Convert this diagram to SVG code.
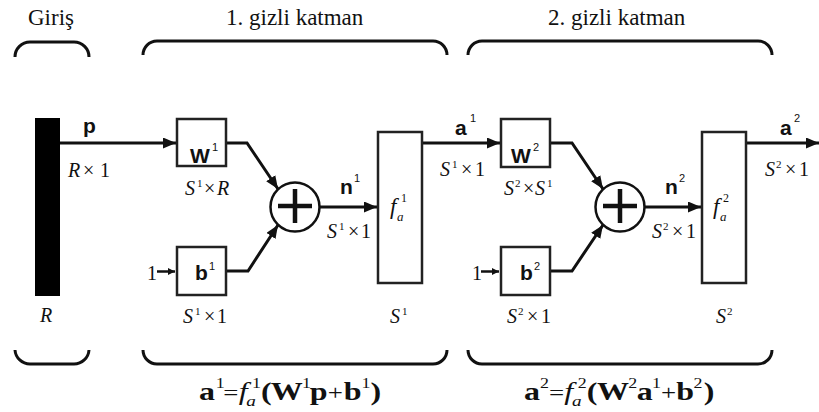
<svg xmlns="http://www.w3.org/2000/svg" width="819" height="412" viewBox="0 0 819 412">
<style>
.ttl{font-family:'Liberation Serif','Times New Roman',serif;font-size:23px;fill:#111}
.m{font-family:'Liberation Serif','Times New Roman',serif;font-size:20px;fill:#111}
.it{font-style:italic}
.sm{font-size:11px}
.bs{font-family:'Liberation Sans',Arial,sans-serif;font-weight:bold;font-size:21px;fill:#111}
.ss{font-family:'Liberation Sans',Arial,sans-serif;font-weight:normal;font-size:11px}
.frm{font-family:'Liberation Serif','Times New Roman',serif;font-weight:bold;font-size:25px;fill:#111}
.nw{font-weight:normal}
.op{font-weight:normal;font-size:21px}
.sup{font-weight:normal;font-size:14px}
.box{fill:#fff;stroke:#222;stroke-width:2.5}
.br{fill:none;stroke:#111;stroke-width:3}
.ln{fill:none;stroke:#111;stroke-width:3;stroke-linejoin:miter}
.sl{fill:none;stroke:#111;stroke-width:2.5}
</style>
<defs>
<marker id="ah" markerUnits="userSpaceOnUse" markerWidth="14" markerHeight="12" refX="13" refY="5.5" orient="auto">
<path d="M0,0 L13,5.5 L0,11 z" fill="#111"/>
</marker>
<marker id="as" markerUnits="userSpaceOnUse" markerWidth="8" markerHeight="8" refX="7" refY="4" orient="auto">
<path d="M0,0.5 L7,4 L0,7.5 z" fill="#111"/>
</marker>
</defs>
<rect width="819" height="412" fill="#fff"/>

<g id="titles">
<text class="ttl" x="28" y="25">Giriş</text>
<text class="ttl" x="226" y="25">1. gizli katman</text>
<text class="ttl" x="548" y="25">2. gizli katman</text>
</g>

<g id="braces">
<path class="br" d="M15,57 A15,15 0 0 1 30,42 H74 A15,15 0 0 1 89,57"/>
<path class="br" d="M143,55 A14,14 0 0 1 157,41 H433 A14,14 0 0 1 447,55"/>
<path class="br" d="M468,55 A14,14 0 0 1 482,41 H758 A14,14 0 0 1 772,55"/>
<path class="br" d="M15,350 A15,15 0 0 0 30,364 H74 A15,15 0 0 0 89,350"/>
<path class="br" d="M143,350 A14,14 0 0 0 157,364 H433 A14,14 0 0 0 447,350"/>
<path class="br" d="M468,350 A14,14 0 0 0 482,364 H758 A14,14 0 0 0 772,350"/>
</g>

<g id="connectors">
<path class="ln" d="M60,143 H176" marker-end="url(#ah)"/>
<path class="ln" d="M227,143 H247 L278,189" marker-end="url(#ah)"/>
<path class="ln" d="M227,271 H248 L278,225" marker-end="url(#ah)"/>
<path class="ln" d="M320,207 H377" marker-end="url(#ah)"/>
<path class="ln" d="M423,143 H500" marker-end="url(#ah)"/>
<path class="ln" d="M551,143 H572 L603,189" marker-end="url(#ah)"/>
<path class="ln" d="M551,271 H572 L603,225" marker-end="url(#ah)"/>
<path class="ln" d="M645,207 H701" marker-end="url(#ah)"/>
<path class="ln" d="M747,143 H819" marker-end="url(#ah)"/>
<path class="sl" d="M157,271.5 H175" marker-end="url(#as)"/>
<path class="sl" d="M481,271.5 H499" marker-end="url(#as)"/>
</g>

<g id="input">
<rect x="35" y="118" width="25" height="178" fill="#000"/>
<text class="m it" x="40" y="322">R</text>
<text class="bs" x="83" y="133">p</text>
<text class="m" y="177"><tspan class="it" x="68">R</tspan><tspan x="83">×</tspan><tspan x="100">1</tspan></text>
</g>

<g id="W1">
<rect class="box" x="177" y="119" width="49" height="47"/>
<text class="bs" x="190" y="163">W<tspan class="ss" x="212" y="151">1</tspan></text>
<text class="m" y="195"><tspan class="it" x="185">S</tspan><tspan class="sm" x="197" y="187">1</tspan><tspan x="204" y="195">×</tspan><tspan class="it" x="217">R</tspan></text>
</g>

<g id="b1">
<rect class="box" x="177" y="247" width="49" height="48"/>
<text class="m" x="147" y="280">1</text>
<text class="bs" x="195" y="280">b<tspan class="ss" x="209" y="270">1</tspan></text>
<text class="m" y="323"><tspan class="it" x="183">S</tspan><tspan class="sm" x="195" y="315">1</tspan><tspan x="204" y="323">×</tspan><tspan x="217">1</tspan></text>
</g>

<g id="sum1">
<circle cx="295" cy="207" r="24.5" fill="#fff" stroke="#111" stroke-width="2.5"/>
<path d="M278,206 H312 M295,189 V223" stroke="#111" stroke-width="4.5" fill="none"/>
<text class="bs" x="340" y="194">n<tspan class="ss" x="354" y="182">1</tspan></text>
<text class="m" y="238"><tspan class="it" x="327">S</tspan><tspan class="sm" x="339" y="230">1</tspan><tspan x="348" y="238">×</tspan><tspan x="361">1</tspan></text>
</g>

<g id="f1">
<rect class="box" x="378" y="132" width="44" height="151"/>
<text class="m it" style="font-size:23px" x="390" y="214">f<tspan style="font-size:13px" x="397" y="221">a</tspan><tspan style="font-size:12px;font-style:normal" x="401" y="202">1</tspan></text>
<text class="m" y="323"><tspan class="it" x="390">S</tspan><tspan class="sm" x="402" y="315">1</tspan></text>
</g>

<g id="a1label">
<text class="bs" x="455" y="135">a<tspan class="ss" x="470" y="122">1</tspan></text>
<text class="m" y="176"><tspan class="it" x="440">S</tspan><tspan class="sm" x="452" y="168">1</tspan><tspan x="461" y="176">×</tspan><tspan x="475">1</tspan></text>
</g>

<g id="W2">
<rect class="box" x="501" y="119" width="49" height="48"/>
<text class="bs" x="511" y="163">W<tspan class="ss" x="533" y="151">2</tspan></text>
<text class="m" y="195"><tspan class="it" x="504">S</tspan><tspan class="sm" x="515" y="187">2</tspan><tspan x="523" y="195">×</tspan><tspan class="it" x="535">S</tspan><tspan class="sm" x="547" y="187">1</tspan></text>
</g>

<g id="b2">
<rect class="box" x="501" y="247" width="49" height="48"/>
<text class="m" x="472" y="280">1</text>
<text class="bs" x="520" y="280">b<tspan class="ss" x="534" y="270">2</tspan></text>
<text class="m" y="323"><tspan class="it" x="507">S</tspan><tspan class="sm" x="518" y="315">2</tspan><tspan x="527" y="323">×</tspan><tspan x="541">1</tspan></text>
</g>

<g id="sum2">
<circle cx="620" cy="207" r="24.5" fill="#fff" stroke="#111" stroke-width="2.5"/>
<path d="M603,206 H637 M620,189 V223" stroke="#111" stroke-width="4.5" fill="none"/>
<text class="bs" x="665" y="194">n<tspan class="ss" x="679" y="182">2</tspan></text>
<text class="m" y="238"><tspan class="it" x="652">S</tspan><tspan class="sm" x="663" y="230">2</tspan><tspan x="672" y="238">×</tspan><tspan x="686">1</tspan></text>
</g>

<g id="f2">
<rect class="box" x="702" y="132" width="44" height="151"/>
<text class="m it" style="font-size:23px" x="713" y="214">f<tspan style="font-size:13px" x="720" y="221">a</tspan><tspan style="font-size:12px;font-style:normal" x="723" y="202">2</tspan></text>
<text class="m" y="323"><tspan class="it" x="716">S</tspan><tspan class="sm" x="727" y="315">2</tspan></text>
</g>

<g id="a2label">
<text class="bs" x="780" y="135">a<tspan class="ss" x="794" y="122">2</tspan></text>
<text class="m" y="176"><tspan class="it" x="765">S</tspan><tspan class="sm" x="776" y="168">2</tspan><tspan x="785" y="176">×</tspan><tspan x="799">1</tspan></text>
</g>

<g id="formula1" transform="translate(199 400) scale(1.28 1)">
<text class="frm"><tspan x="0" y="0">a</tspan><tspan class="sup" x="13" y="-12">1</tspan><tspan class="op" x="19" y="0">=</tspan><tspan class="nw it" x="31" y="0">f</tspan><tspan class="nw it" style="font-size:15px" x="37" y="6">a</tspan><tspan class="sup" x="41.5" y="-12">1</tspan><tspan x="48.5" y="0">(</tspan><tspan x="56" y="0">W</tspan><tspan class="sup" x="80.5" y="-12">1</tspan><tspan x="86.5" y="0">p</tspan><tspan class="op" x="100.5" y="0">+</tspan><tspan x="113" y="0">b</tspan><tspan class="sup" x="127" y="-12">1</tspan><tspan x="134" y="0">)</tspan></text>
</g>

<g id="formula2" transform="translate(524 400) scale(1.28 1)">
<text class="frm"><tspan x="0" y="0">a</tspan><tspan class="sup" x="12.5" y="-12">2</tspan><tspan class="op" x="19.5" y="0">=</tspan><tspan class="nw it" x="31.5" y="0">f</tspan><tspan class="nw it" style="font-size:15px" x="37.5" y="6">a</tspan><tspan class="sup" x="42" y="-12">2</tspan><tspan x="49" y="0">(</tspan><tspan x="57" y="0">W</tspan><tspan class="sup" x="81.5" y="-12">2</tspan><tspan x="88" y="0">a</tspan><tspan class="sup" x="100" y="-12">1</tspan><tspan class="op" x="107" y="0">+</tspan><tspan x="119" y="0">b</tspan><tspan class="sup" x="132.5" y="-12">2</tspan><tspan x="140.5" y="0">)</tspan></text>
</g>
</svg>
